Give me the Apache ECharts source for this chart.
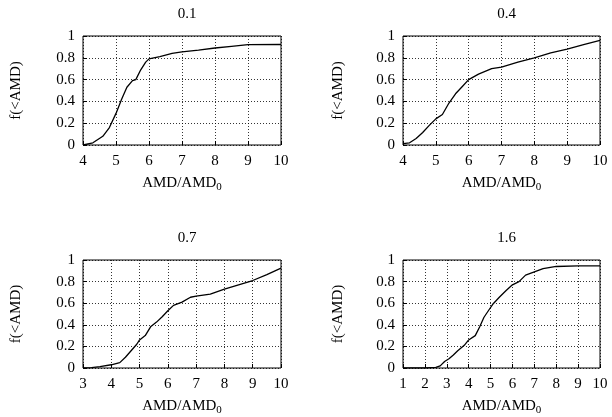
<!DOCTYPE html>
<html>
<head>
<meta charset="utf-8">
<script src="https://cdn.jsdelivr.net/npm/echarts@6/dist/echarts.min.js"></script>
<style>
html, body { margin: 0; padding: 0; background: #fff; }
#chart { width: 612px; height: 417px; }
</style>
</head>
<body>
<div id="chart"></div>
<script>
// panel titles
var titles = ['0.1', '0.4', '0.7', '1.6'];
// x range start of each panel
var xMins = [4, 4, 3, 1];

// CDF, one pair of arrays per panel
var x01 = [4, 4.3, 4.6, 4.8, 5.0, 5.17, 5.33, 5.5, 5.6, 5.75, 5.9, 6.0, 6.33, 6.7, 7.0, 7.5, 8.0, 8.5, 9.0, 10];
var y01 = [0, 0.02, 0.08, 0.16, 0.29, 0.42, 0.53, 0.59, 0.60, 0.69, 0.76, 0.79, 0.81, 0.84, 0.855, 0.87, 0.89, 0.905, 0.92, 0.922];

var x04 = [4, 4.2, 4.4, 4.6, 4.8, 5.0, 5.2, 5.4, 5.6, 5.8, 6.0, 6.3, 6.7, 7.0, 7.5, 8.0, 8.5, 9.0, 9.5, 10];
var y04 = [0.012, 0.02, 0.06, 0.115, 0.18, 0.24, 0.28, 0.385, 0.47, 0.535, 0.60, 0.65, 0.70, 0.715, 0.76, 0.80, 0.845, 0.88, 0.92, 0.96];

var x07 = [3.0, 3.3, 3.6, 4.0, 4.3, 4.5, 4.7, 4.9, 5.0, 5.2, 5.4, 5.6, 5.8, 6.0, 6.2, 6.5, 6.8, 7.0, 7.5, 8.0, 8.5, 9.0, 9.5, 10];
var y07 = [0, 0.003, 0.012, 0.03, 0.05, 0.10, 0.16, 0.22, 0.26, 0.30, 0.385, 0.425, 0.475, 0.53, 0.58, 0.61, 0.655, 0.665, 0.685, 0.73, 0.77, 0.81, 0.865, 0.925];

var x16 = [1, 2, 2.5, 2.7, 2.9, 3.1, 3.3, 3.5, 3.8, 4.0, 4.3, 4.5, 4.7, 4.9, 5.1, 5.4, 5.7, 6.0, 6.3, 6.6, 7.0, 7.4, 8.0, 9.0, 10];
var y16 = [0, 0, 0.005, 0.02, 0.06, 0.085, 0.12, 0.16, 0.21, 0.26, 0.30, 0.38, 0.47, 0.53, 0.59, 0.655, 0.715, 0.77, 0.80, 0.86, 0.89, 0.92, 0.94, 0.945, 0.945];

var xs = [x01, x04, x07, x16];
var ys = [y01, y04, y07, y16];

var font = "'Liberation Serif', 'Times New Roman', serif";
var chart = echarts.init(document.getElementById('chart'));

// plot boxes of the 2x2 layout
var boxes = [
  {left: 83, top: 36, width: 198, height: 109},
  {left: 403, top: 36, width: 197, height: 109},
  {left: 83, top: 260, width: 198, height: 108},
  {left: 403, top: 260, width: 197, height: 108}
];

var option = {backgroundColor: '#fff', animation: false, title: [], grid: [], xAxis: [], yAxis: [], series: []};

for (var i = 0; i < 4; i++) {
  var b = boxes[i];
  option.title.push({
    text: titles[i], left: b.left + b.width / 2, top: b.top - 34, textAlign: 'center',
    textStyle: {fontFamily: font, fontSize: 15, fontWeight: 'normal', color: '#000'}
  });
  option.grid.push({left: b.left, top: b.top, width: b.width, height: b.height,
    show: true, borderColor: '#000', borderWidth: 1, backgroundColor: 'transparent'});
  option.xAxis.push({
    type: 'value', gridIndex: i, min: xMins[i], max: 10, interval: 1,
    name: 'AMD/AMD{sub|0}', nameLocation: 'middle', nameGap: 28,
    nameTextStyle: {fontFamily: font, fontSize: 15, color: '#000',
      rich: {sub: {fontFamily: font, fontSize: 11, color: '#000', verticalAlign: 'bottom', padding: [9, 0, 0, 0]}}},
    axisLine: {show: false},
    axisTick: {show: true, inside: true, length: 4, lineStyle: {color: '#000'}},
    axisLabel: {fontFamily: font, fontSize: 15, color: '#000', margin: 9},
    splitLine: {show: true, lineStyle: {color: '#000', type: [1, 2], width: 0.8}}
  });
  option.yAxis.push({
    type: 'value', gridIndex: i, min: 0, max: 1, interval: 0.2,
    name: 'f(<AMD)', nameLocation: 'middle', nameGap: i % 2 ? 57 : 59, nameRotate: 90,
    nameTextStyle: {fontFamily: font, fontSize: 15, color: '#000'},
    axisLine: {show: false},
    axisTick: {show: true, inside: true, length: 4, lineStyle: {color: '#000'}},
    axisLabel: {fontFamily: font, fontSize: 15, color: '#000', margin: 8},
    splitLine: {show: true, lineStyle: {color: '#000', type: [1, 2], width: 0.8}}
  });
  var pts = [];
  for (var k = 0; k < xs[i].length; k++) pts.push([xs[i][k], ys[i][k]]);
  option.series.push({
    type: 'line', xAxisIndex: i, yAxisIndex: i, data: pts,
    showSymbol: false, lineStyle: {color: '#000', width: 1.3}
  });
}

chart.setOption(option);
</script>
</body>
</html>
